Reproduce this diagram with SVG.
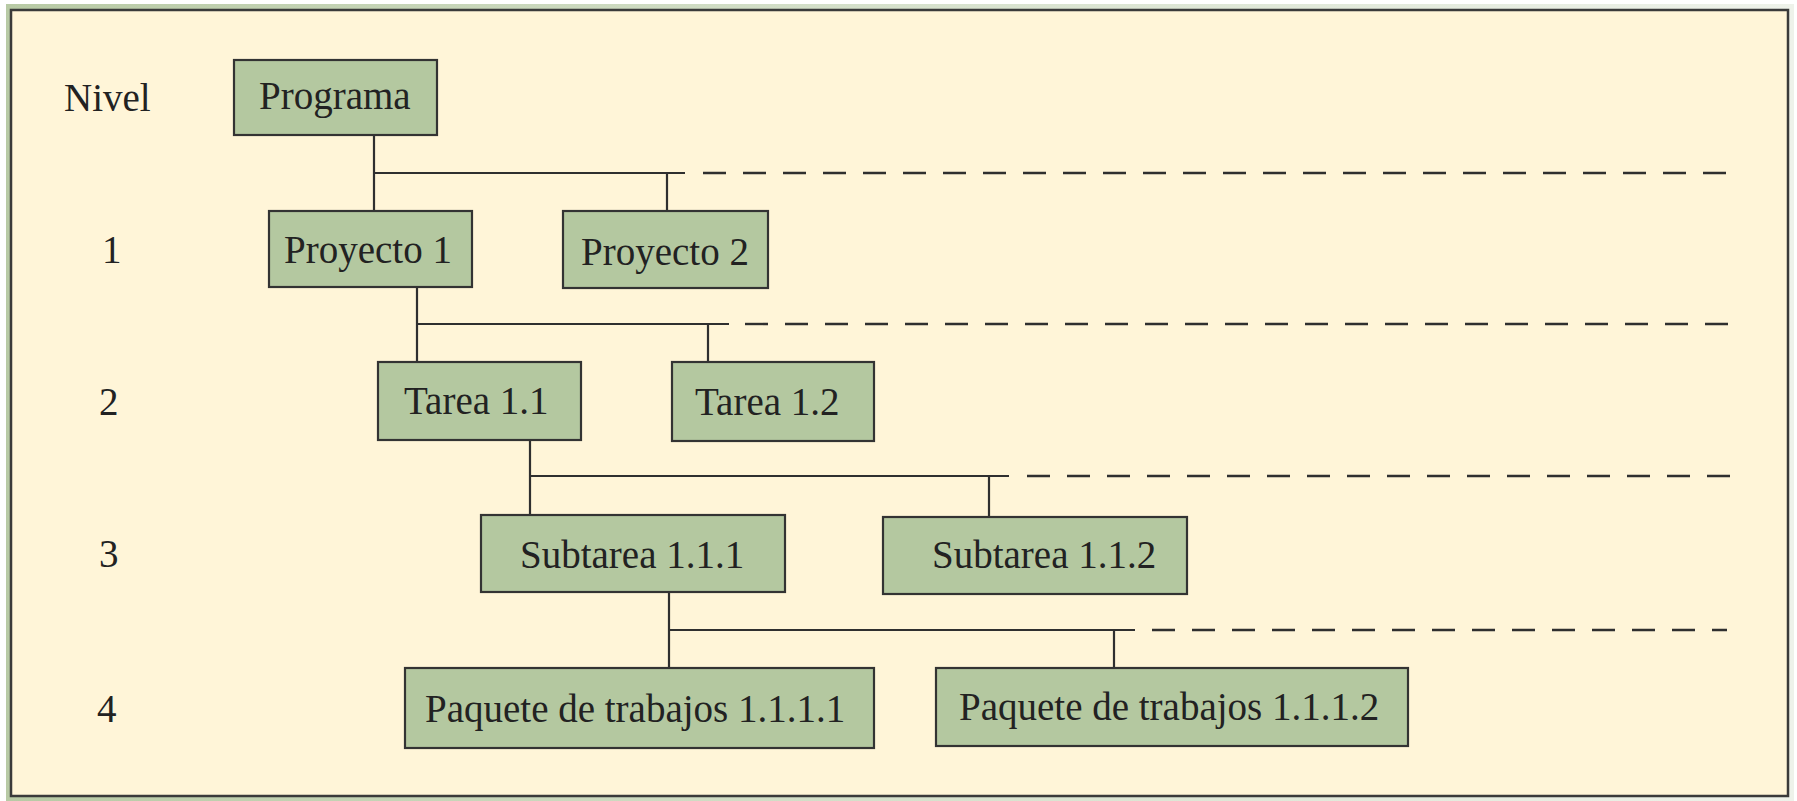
<svg xmlns="http://www.w3.org/2000/svg" width="1797" height="801" viewBox="0 0 1797 801">
<defs>
<linearGradient id="frameGrad" x1="0" y1="0" x2="1" y2="0">
<stop offset="0" stop-color="#b8caa5"/>
<stop offset="0.5" stop-color="#d6e1cc"/>
<stop offset="1" stop-color="#eef2ea"/>
</linearGradient>
</defs>
<style>
.box{fill:#b4c8a0;stroke:#333333;stroke-width:2.2}
.lbl{font-family:"Liberation Serif","Times New Roman",serif;font-size:39px;fill:#222222}
.ln{stroke:#2f2f2f;stroke-width:2.2;fill:none}
.dash{stroke:#2f2f2f;stroke-width:2.4;fill:none;stroke-dasharray:23 17}
</style>
<rect x="0" y="0" width="1797" height="801" fill="#ffffff"/>
<rect x="6" y="4" width="1788" height="797" fill="url(#frameGrad)"/>
<rect x="11" y="10" width="1777" height="786" fill="#fff5d8" stroke="#3a3a3a" stroke-width="2.5"/>

<g id="levels">
<text class="lbl" x="64" y="111">Nivel</text>
<text class="lbl" x="102" y="263">1</text>
<text class="lbl" x="99" y="415">2</text>
<text class="lbl" x="99" y="567">3</text>
<text class="lbl" x="97" y="722">4</text>
</g>

<g id="connectors">
<path class="ln" d="M374 135 V211 M374 173 H685 M667 173 V211"/>
<path class="dash" d="M703 173 H1742"/>
<path class="ln" d="M417 287 V362 M417 324 H729 M708 324 V362"/>
<path class="dash" d="M745 324 H1742"/>
<path class="ln" d="M530 440 V515 M530 476 H1009 M989 476 V517"/>
<path class="dash" d="M1027 476 H1742"/>
<path class="ln" d="M669 592 V668 M669 630 H1135 M1114 630 V668"/>
<path class="dash" d="M1152 630 H1727"/>
</g>

<g id="n-programa">
<rect class="box" x="234" y="60" width="203" height="75"/>
<text class="lbl" x="259" y="109">Programa</text>
</g>
<g id="n-proyecto1">
<rect class="box" x="269" y="211" width="203" height="76"/>
<text class="lbl" x="284" y="263">Proyecto 1</text>
</g>
<g id="n-proyecto2">
<rect class="box" x="563" y="211" width="205" height="77"/>
<text class="lbl" x="581" y="265">Proyecto 2</text>
</g>
<g id="n-tarea11">
<rect class="box" x="378" y="362" width="203" height="78"/>
<text class="lbl" x="404" y="414">Tarea 1.1</text>
</g>
<g id="n-tarea12">
<rect class="box" x="672" y="362" width="202" height="79"/>
<text class="lbl" x="695" y="415">Tarea 1.2</text>
</g>
<g id="n-subtarea111">
<rect class="box" x="481" y="515" width="304" height="77"/>
<text class="lbl" x="520" y="568">Subtarea 1.1.1</text>
</g>
<g id="n-subtarea112">
<rect class="box" x="883" y="517" width="304" height="77"/>
<text class="lbl" x="932" y="568">Subtarea 1.1.2</text>
</g>
<g id="n-paquete1111">
<rect class="box" x="405" y="668" width="469" height="80"/>
<text class="lbl" x="425" y="722">Paquete de trabajos 1.1.1.1</text>
</g>
<g id="n-paquete1112">
<rect class="box" x="936" y="668" width="472" height="78"/>
<text class="lbl" x="959" y="720">Paquete de trabajos 1.1.1.2</text>
</g>
</svg>
